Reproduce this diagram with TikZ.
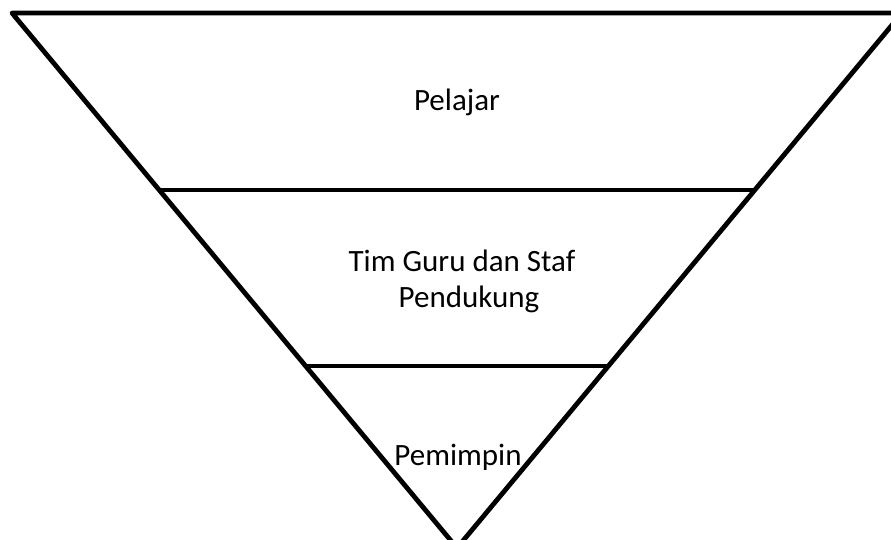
\documentclass[tikz,border=0pt]{standalone}
\usepackage{fontspec}
\setmainfont{Carlito}
\begin{document}
\begin{tikzpicture}[x=1pt,y=1pt,
  edge/.style={line width=4.8pt,line join=round,line cap=butt},
  label/.style={font=\fontsize{31}{36}\selectfont,inner sep=0pt,anchor=base,align=center}]
\useasboundingbox (0,0) rectangle (891,539);
\clip (0,0) rectangle (891,539);
\fill[white] (0,0) rectangle (891,539);
\coordinate (tl) at (12,526);
\coordinate (tr) at (902,526);
\coordinate (ap) at (457,-9);
\coordinate (l1) at (159.2,349);
\coordinate (r1) at (754.8,349);
\coordinate (l2) at (305.6,173);
\coordinate (r2) at (608.4,173);
\draw[edge] (tl) -- (tr) -- (ap) -- cycle;
\draw[edge] (l1) -- (r1);
\draw[edge] (l2) -- (r2);
\node[label] (pel) at (457,428) {Pelajar};
\node[label] (tim) at (469,231.7) {Tim Guru dan Staf\hspace*{14pt}\\Pendukung};
\node[label] (pem) at (458,74) {Pemimpin};
\end{tikzpicture}
\end{document}
